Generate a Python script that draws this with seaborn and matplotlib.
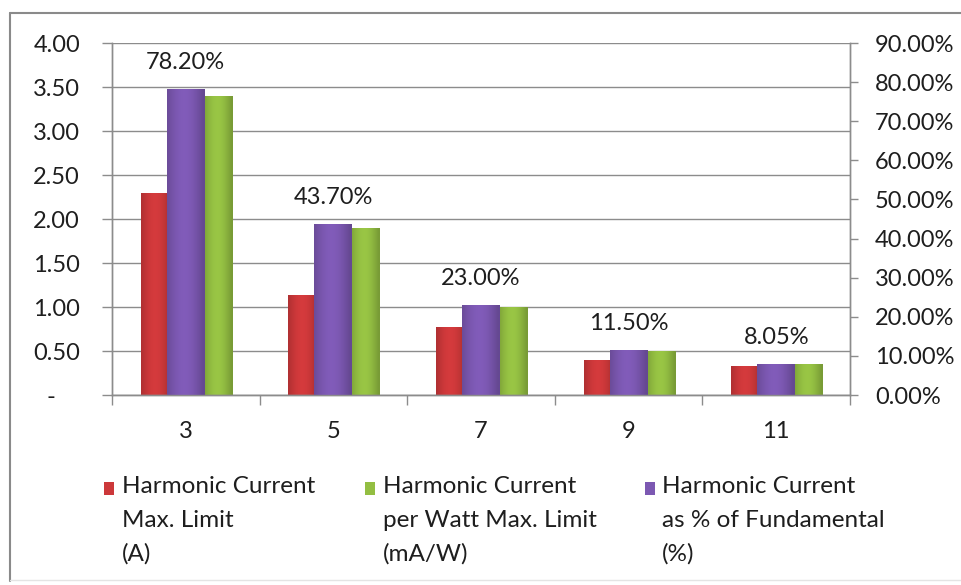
import numpy as np
import pandas as pd
import matplotlib
matplotlib.use("Agg")
import matplotlib.pyplot as plt
import matplotlib.colors as mcolors
from matplotlib.patches import Rectangle
from matplotlib.lines import Line2D
from matplotlib.ticker import FixedLocator, FuncFormatter, PercentFormatter
import seaborn as sns

# Harmonic order
harmonics = ["3", "5", "7", "9", "11"]
# Left axis series
limit_amps = [2.30, 1.14, 0.77, 0.40, 0.33]          # A
limit_ma_per_w = [3.40, 1.90, 1.00, 0.50, 0.35]      # mA/W
# Right axis series (fraction of fundamental)
pct_fundamental = [0.782, 0.437, 0.230, 0.115, 0.0805]

series_labels = [
    "Harmonic Current\nMax. Limit\n(A)",
    "Harmonic Current\nper Watt Max. Limit\n(mA/W)",
    "Harmonic Current\nas % of Fundamental\n(%)",
]

RED = "#CC383A"
GREEN = "#93BE42"
PURPLE = "#7C58B2"

sns.set_style("white")
plt.rcParams["font.family"] = ["Lato", "DejaVu Sans"]
plt.rcParams["text.color"] = "#1e1e1e"

FS = 17

W, H = 961, 585
fig = plt.figure(figsize=(W / 100, H / 100), dpi=100)
fig.patch.set_facecolor("white")

# plot-area in pixels
x0, x1, ytop, ybot = 112, 850, 43, 395
ax = fig.add_axes([x0 / W, 1 - ybot / H, (x1 - x0) / W, (ybot - ytop) / H])

left_df = pd.DataFrame({
    "harmonic": harmonics * 2,
    "value": limit_amps + limit_ma_per_w,
    "series": ["A"] * 5 + ["mA/W"] * 5,
})
sns.barplot(data=left_df, x="harmonic", y="value", hue="series",
            hue_order=["A", "mA/W"], palette=[RED, GREEN], saturation=1,
            order=harmonics, ax=ax, legend=False, linewidth=0)

ax2 = ax.twinx()
right_df = pd.DataFrame({"harmonic": harmonics, "value": pct_fundamental})
sns.barplot(data=right_df, x="harmonic", y="value", color=PURPLE, saturation=1,
            order=harmonics, ax=ax2, linewidth=0)

# bar placement within each category slot (offset of left edge, width)
layout = {0: (-0.305, 0.205), 1: (0.122, 0.196)}
for k, cont in enumerate(ax.containers):
    off, w = layout[k]
    for i, bar in enumerate(cont):
        bar.set_x(i + off)
        bar.set_width(w)
for i, bar in enumerate(ax2.containers[0]):
    bar.set_x(i - 0.129)
    bar.set_width(0.251)


def shade(axis, bar):
    """Soft horizontal gradient over a bar, darker toward its edges."""
    x, y = bar.get_x(), bar.get_y()
    w, h = bar.get_width(), bar.get_height()
    base = np.array(mcolors.to_rgb(bar.get_facecolor()))
    t = np.linspace(0, 1, 64)
    f = 0.86 + 0.20 * np.sin(np.pi * np.clip(t * 1.05, 0, 1)) - 0.04 * t
    img = np.clip(base[None, :] * f[:, None], 0, 1)[None, :, :]
    im = axis.imshow(img, extent=(x, x + w, y, y + h), aspect="auto",
                     interpolation="bilinear", zorder=bar.get_zorder() + 0.01)
    im.set_clip_path(bar)


for cont in ax.containers:
    for bar in cont:
        shade(ax, bar)
for bar in ax2.containers[0]:
    shade(ax2, bar)

ax.set_xlim(-0.5, 4.5)
ax.set_ylim(0, 4.0)
ax2.set_xlim(-0.5, 4.5)
ax2.set_ylim(0, 0.9)

TXT = "#1e1e1e"
GRID = "#8c8c8c"

# value labels over the percentage bars
for i, bar in enumerate(ax2.containers[0]):
    v = pct_fundamental[i]
    ax2.annotate(f"{v * 100:.2f}%", xy=(i, v), xytext=(0, 19),
                 textcoords="offset points", ha="center", va="center",
                 fontsize=FS, color=TXT)

# left axis
left_ticks = np.arange(0, 4.01, 0.5)
ax.yaxis.set_major_locator(FixedLocator(left_ticks))
ax.yaxis.set_major_formatter(FuncFormatter(lambda v, p: "-    " if v == 0 else f"{v:.2f}"))
ax.tick_params(axis="y", length=7, width=1, color=GRID, pad=16,
               labelsize=FS, labelcolor=TXT, direction="out", left=True)
ax.grid(axis="y", color=GRID, linewidth=1)
ax.set_axisbelow(True)
ax.set_ylabel("")
ax.set_xlabel("")

# category axis: ticks between the groups
ax.tick_params(axis="x", which="major", length=0, pad=19, labelsize=FS, labelcolor=TXT)
ax.xaxis.set_minor_locator(FixedLocator(np.arange(-0.5, 5, 1.0)))
ax.tick_params(axis="x", which="minor", length=7, width=1, color=GRID,
               direction="out", bottom=True)

# right axis
ax2.yaxis.set_major_locator(FixedLocator(np.arange(0, 0.901, 0.1)))
ax2.yaxis.set_major_formatter(PercentFormatter(1.0, decimals=2))
ax2.tick_params(axis="y", length=6, width=1, color=GRID, pad=12,
                labelsize=FS, labelcolor=TXT, direction="out", right=True)
ax2.set_ylabel("")
ax2.set_xlabel("")
ax2.grid(False)

for a in (ax, ax2):
    a.spines["top"].set_visible(False)
    for side in ("left", "right", "bottom"):
        a.spines[side].set_color(GRID)
        a.spines[side].set_linewidth(1)

# legend
colors = [RED, GREEN, PURPLE]
key_x = [104, 365, 645]
text_x = [122, 383, 662]
for c, kx, tx, lab in zip(colors, key_x, text_x, series_labels):
    fig.patches.append(Rectangle((kx / W, 1 - 495 / H), 10 / W, 13 / H,
                                 transform=fig.transFigure, facecolor=c,
                                 edgecolor="none"))
    fig.text(tx / W, 1 - 476 / H, lab, ha="left", va="top", fontsize=17.5,
             color=TXT, linespacing=1.74)

# chart frame
fig.add_artist(Line2D([10 / W, 10 / W], [1 - 13 / H, 1 - 581 / H],
                      transform=fig.transFigure, color="#8a8a8a", lw=1.5))
fig.add_artist(Line2D([10 / W, 1.0], [1 - 13 / H, 1 - 13 / H],
                      transform=fig.transFigure, color="#8a8a8a", lw=1.5))
fig.add_artist(Line2D([10 / W, 1.0], [1 - 580 / H, 1 - 580 / H],
                      transform=fig.transFigure, color="#e4e4e4", lw=1))

fig.savefig("out.png", dpi=100)
